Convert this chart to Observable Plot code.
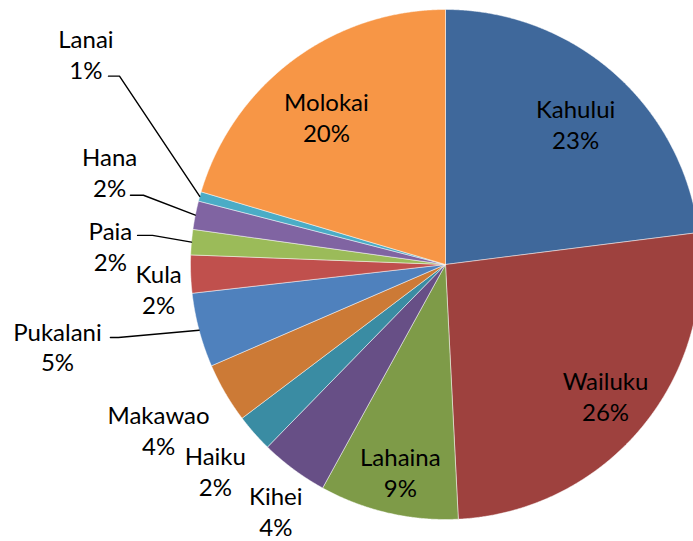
<!DOCTYPE html>
<html>
<head>
<meta charset="utf-8">
<script src="https://cdn.jsdelivr.net/npm/d3@7"></script>
<script src="https://cdn.jsdelivr.net/npm/@observablehq/plot@0.6"></script>
<style>
  html, body { margin: 0; padding: 0; background: #ffffff; }
  #chart { width: 693px; height: 541px; overflow: hidden; }
</style>
</head>
<body>
<div id="chart"></div>
<script>
// ---- Data ----
const towns  = ["Kahului","Wailuku","Lahaina","Kihei","Haiku","Makawao","Pukalani","Kula","Paia","Hana","Lanai","Molokai"];
const shares = [23.0, 26.2, 8.8, 4.3, 2.4, 3.8, 4.7, 2.4, 1.6, 1.8, 0.6, 20.4];

// ---- Style ----
const colors = ["#3F689B","#9E413E","#7E9B48","#674F86","#3A8CA3","#CC7A36",
                "#4F81BD","#C0504D","#9BBB59","#8064A2","#4BACC6","#F79646"];

// ---- Label layout (polar: radius as fraction of pie radius, angle clockwise from 12 o'clock) ----
const labelRadius = [0.751, 0.811, 0.831, 1.172, 1.211, 1.298, 1.555, 1.129, 1.316, 1.367, 1.634, 0.745];
const labelAngle  = [42.8, 129.3, 192.3, 214.6, 228.2, 240.1, 258.1, 265.2, 273.2, 285.5, 300.35, 321.2];
// leader lines: slice, start (polar), horizontal segment length (px)
const leaderTown   = ["Lanai","Hana","Paia","Pukalani"];
const leaderRadius = [1.514, 1.265, 1.213, 1.345];
const leaderAngle  = [299.2, 282.4, 275.4, 257.7];
const leaderLen    = [11, 13, 15, 8];

const R_PX = 255;            // pie radius in pixels
const px = v => v / R_PX;    // pixels -> data units
const rad = a => a * Math.PI / 180;
const polar = (r, aDeg) => [r * Math.sin(rad(aDeg)), r * Math.cos(rad(aDeg))];

const total = d3.sum(shares);
const arcs = d3.pie().sort(null).value(d => d)(shares);

// slice polygons
const slicePts = [];
arcs.forEach((a, i) => {
  const name = towns[i];
  slicePts.push({name, x: 0, y: 0});
  const n = Math.max(2, Math.ceil((a.endAngle - a.startAngle) / (Math.PI / 720)));
  for (let k = 0; k <= n; k++) {
    const t = a.startAngle + (a.endAngle - a.startAngle) * k / n;
    slicePts.push({name, x: Math.sin(t), y: Math.cos(t)});
  }
  slicePts.push({name, x: 0, y: 0});
});

// labels
const labels = towns.map((name, i) => {
  const [x, y] = polar(labelRadius[i], labelAngle[i]);
  return {name, x, y, text: `${name}\n${Math.round(shares[i] / total * 100)}%`};
});

// leader lines
const leaderPts = [];
leaderTown.forEach((name, j) => {
  const i = towns.indexOf(name);
  const mid = (arcs[i].startAngle + arcs[i].endAngle) / 2;
  const [sx, sy] = polar(leaderRadius[j], leaderAngle[j]);
  leaderPts.push({name, x: sx, y: sy});
  leaderPts.push({name, x: sx + px(leaderLen[j]), y: sy});
  leaderPts.push({name, x: Math.sin(mid), y: Math.cos(mid)});
});

const chart = Plot.plot({
  width: 693,
  height: 541,
  margin: 0,
  x: {domain: [-1, 1], range: [190, 700], axis: null},
  y: {domain: [-1, 1], range: [519, 9], axis: null},
  color: {domain: towns, range: colors},
  style: {fontFamily: "Lato, 'Open Sans', sans-serif", background: "white", overflow: "hidden"},
  marks: [
    Plot.line(slicePts, {x: "x", y: "y", z: "name", fill: "name", stroke: "white", strokeWidth: 0.6, strokeOpacity: 0.8, curve: "linear"}),
    Plot.line(leaderPts, {x: "x", y: "y", z: "name", stroke: "black", strokeWidth: 1.4, curve: "linear"}),
    Plot.text(labels, {x: "x", y: "y", text: "text", fontSize: 24, lineHeight: 1.28, fill: "black", textAnchor: "middle"})
  ]
});
document.getElementById("chart").appendChild(chart);
</script>
</body>
</html>
